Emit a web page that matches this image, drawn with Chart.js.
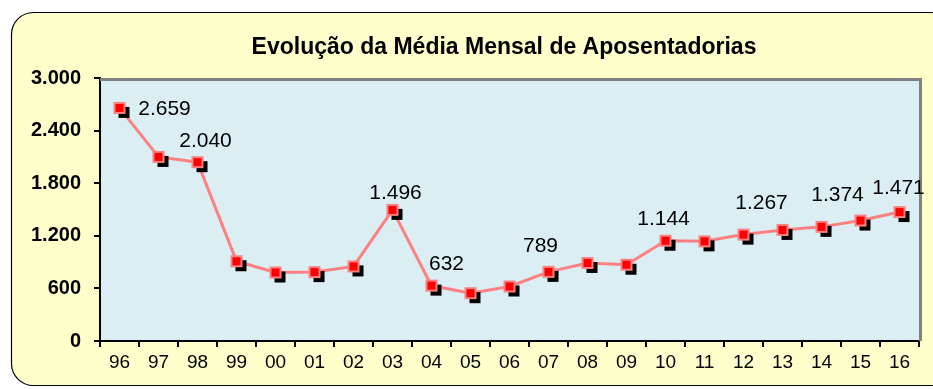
<!DOCTYPE html>
<html>
<head>
<meta charset="utf-8">
<script src="https://cdn.jsdelivr.net/npm/chart.js@4"></script>
<style>
  html, body { margin: 0; padding: 0; background: #ffffff; }
  #wrap { width: 933px; height: 389px; position: relative; }
</style>
</head>
<body>
<div id="wrap"><canvas id="chart"></canvas></div>
<script>
// Anos (rótulos do eixo X)
const years = ['96', '97', '98', '99', '00', '01', '02', '03', '04', '05', '06',
               '07', '08', '09', '10', '11', '12', '13', '14', '15', '16'];

// Média mensal de aposentadorias por ano
const monthlyAverage = [2659, 2100, 2040, 910, 782, 786, 851, 1496, 632, 546, 622,
                        789, 890, 870, 1144, 1137, 1214, 1267, 1302, 1374, 1471];

// Anos cujo valor aparece escrito no gráfico
const labelledYears = ['96', '98', '03', '04', '07', '10', '13', '15', '16'];

// Marcas do eixo Y
const yTicks = [0, 600, 1200, 1800, 2400, 3000];

const chartTitle = 'Evolução da Média Mensal de Aposentadorias';

const FONT = "'Liberation Sans', Arial, sans-serif";

function fmt(v) {
    return v.toLocaleString('pt-BR');
}

// square red marker with a black drop shadow
function makeMarker() {
    const c = document.createElement('canvas');
    c.width = 22;
    c.height = 22;
    const g = c.getContext('2d');
    g.fillStyle = '#000000';
    g.fillRect(10, 10, 11, 11);
    g.fillStyle = '#ff8080';
    g.fillRect(5, 5, 12, 12);
    g.fillStyle = '#ff0000';
    g.fillRect(7, 7, 8, 8);
    return c;
}

// label placement relative to the marker
const labelShift = {
    '96': [45, 1], '98': [8, -21], '03': [3, -17], '04': [15, -21],
    '07': [-8, -26], '10': [-2, -22], '13': [-21, -27], '15': [-23, -25], '16': [-1, -24]
};

const framePlugin = {
    id: 'frame',
    beforeDraw(chart) {
        const ctx = chart.ctx;
        const a = chart.chartArea;
        ctx.save();
        ctx.fillStyle = '#ffffff';
        ctx.fillRect(0, 0, chart.width, chart.height);
        // rounded yellow panel
        ctx.beginPath();
        ctx.roundRect(11.5, 12.5, 940, 373, 22);
        ctx.fillStyle = '#ffffcc';
        ctx.fill();
        ctx.lineWidth = 1.2;
        ctx.strokeStyle = '#000000';
        ctx.stroke();
        // plot background
        ctx.fillStyle = '#daeef3';
        ctx.fillRect(a.left, a.top, a.right - a.left, a.bottom - a.top);
        // title
        ctx.font = 'bold 23px ' + FONT;
        ctx.fillStyle = '#000000';
        ctx.textAlign = 'center';
        ctx.textBaseline = 'middle';
        ctx.fillText(chartTitle, 504, 48);
        ctx.restore();
    },
    beforeDatasetsDraw(chart) {
        const ctx = chart.ctx;
        const a = chart.chartArea;
        ctx.save();
        ctx.strokeStyle = '#808080';
        ctx.lineWidth = 3;
        ctx.beginPath();
        ctx.moveTo(a.left, a.top + 1.5);
        ctx.lineTo(a.right + 1.5, a.top + 1.5);
        ctx.lineTo(a.right + 1.5, a.bottom);
        ctx.stroke();
        ctx.restore();
    },
    afterDatasetsDraw(chart) {
        const ctx = chart.ctx;
        const pts = chart.getDatasetMeta(0).data;
        ctx.save();
        ctx.font = '21px ' + FONT;
        ctx.fillStyle = '#000000';
        ctx.textAlign = 'center';
        ctx.textBaseline = 'middle';
        labelledYears.forEach(y => {
            const i = years.indexOf(y);
            const p = pts[i];
            const s = labelShift[y];
            ctx.fillText(fmt(monthlyAverage[i]), p.x + s[0], p.y + s[1]);
        });
        ctx.restore();
    }
};

const ctx = document.getElementById('chart');

new Chart(ctx, {
    type: 'line',
    data: {
        labels: years,
        datasets: [{
            data: monthlyAverage,
            borderColor: '#ff8080',
            borderWidth: 3,
            tension: 0,
            pointStyle: makeMarker(),
            pointRadius: 11,
            pointHoverRadius: 11
        }]
    },
    options: {
        responsive: true,
        maintainAspectRatio: false,
        animation: false,
        events: [],
        layout: { padding: { left: 0, right: 10, top: 78, bottom: 0 } },
        plugins: {
            legend: { display: false },
            tooltip: { enabled: false },
            title: { display: false }
        },
        scales: {
            x: {
                offset: true,
                grid: {
                    offset: true,
                    drawOnChartArea: false,
                    color: '#000000',
                    tickLength: 6,
                    lineWidth: 2
                },
                border: { color: '#000000', width: 2 },
                ticks: {
                    color: '#000000',
                    padding: 4,
                    maxRotation: 0,
                    autoSkip: false,
                    font: { family: FONT, size: 19 }
                },
                afterFit(scale) { scale.height = 48; }
            },
            y: {
                min: 0,
                max: 3000,
                afterBuildTicks(scale) {
                    scale.ticks = yTicks.map(v => ({ value: v }));
                },
                grid: {
                    drawOnChartArea: false,
                    color: '#000000',
                    tickLength: 6,
                    lineWidth: 2
                },
                border: { color: '#000000', width: 2 },
                ticks: {
                    color: '#000000',
                    padding: 13,
                    font: { family: FONT, size: 20, weight: 'bold' },
                    callback: v => fmt(v)
                },
                afterFit(scale) { scale.width = 100; }
            }
        }
    },
    plugins: [framePlugin]
});
</script>
</body>
</html>
